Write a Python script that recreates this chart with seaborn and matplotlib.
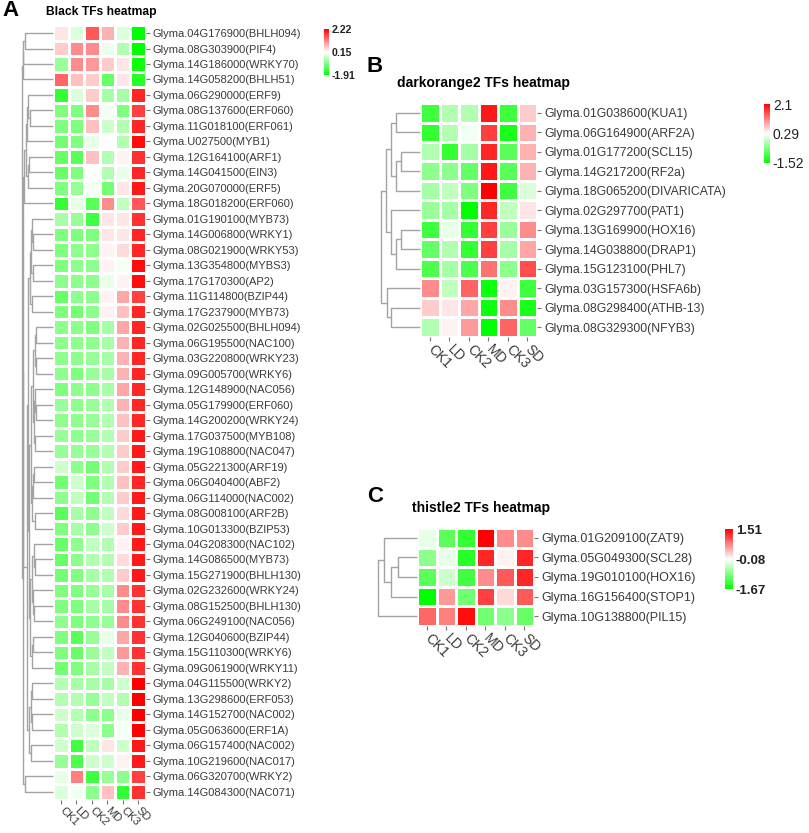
import numpy as np
import pandas as pd
import seaborn as sns
import matplotlib.pyplot as plt
from matplotlib.colors import LinearSegmentedColormap

plt.rcParams['font.family'] = ['Liberation Sans', 'DejaVu Sans']

samples = ['CK1', 'LD', 'CK2', 'MD', 'CK3', 'SD']

# ---- panel A: Black module ----
black_genes = [
    'Glyma.04G176900(BHLH094)', 'Glyma.08G303900(PIF4)', 'Glyma.14G186000(WRKY70)',
    'Glyma.14G058200(BHLH51)', 'Glyma.06G290000(ERF9)', 'Glyma.08G137600(ERF060)',
    'Glyma.11G018100(ERF061)', 'Glyma.U027500(MYB1)', 'Glyma.12G164100(ARF1)',
    'Glyma.14G041500(EIN3)', 'Glyma.20G070000(ERF5)', 'Glyma.18G018200(ERF060)',
    'Glyma.01G190100(MYB73)', 'Glyma.14G006800(WRKY1)', 'Glyma.08G021900(WRKY53)',
    'Glyma.13G354800(MYBS3)', 'Glyma.17G170300(AP2)', 'Glyma.11G114800(BZIP44)',
    'Glyma.17G237900(MYB73)', 'Glyma.02G025500(BHLH094)', 'Glyma.06G195500(NAC100)',
    'Glyma.03G220800(WRKY23)', 'Glyma.09G005700(WRKY6)', 'Glyma.12G148900(NAC056)',
    'Glyma.05G179900(ERF060)', 'Glyma.14G200200(WRKY24)', 'Glyma.17G037500(MYB108)',
    'Glyma.19G108800(NAC047)', 'Glyma.05G221300(ARF19)', 'Glyma.06G040400(ABF2)',
    'Glyma.06G114000(NAC002)', 'Glyma.08G008100(ARF2B)', 'Glyma.10G013300(BZIP53)',
    'Glyma.04G208300(NAC102)', 'Glyma.14G086500(MYB73)', 'Glyma.15G271900(BHLH130)',
    'Glyma.02G232600(WRKY24)', 'Glyma.08G152500(BHLH130)', 'Glyma.06G249100(NAC056)',
    'Glyma.12G040600(BZIP44)', 'Glyma.15G110300(WRKY6)', 'Glyma.09G061900(WRKY11)',
    'Glyma.04G115500(WRKY2)', 'Glyma.13G298600(ERF053)', 'Glyma.14G152700(NAC002)',
    'Glyma.05G063600(ERF1A)', 'Glyma.06G157400(NAC002)', 'Glyma.10G219600(NAC017)',
    'Glyma.06G320700(WRKY2)', 'Glyma.14G084300(NAC071)',
]
black_values = [
    [0.36, -0.15, 1.50, 0.77, -0.15, -1.91],
    [0.57, 1.08, 1.08, 0.00, -0.46, -1.91],
    [-0.67, 1.08, 0.98, 0.57, 0.36, -1.80],
    [1.39, 0.67, 0.57, -1.08, 0.36, -1.60],
    [-1.50, -0.15, 0.57, -0.57, -0.57, 1.91],
    [-0.88, -0.88, 1.08, 0.05, -0.88, 1.70],
    [-0.88, -0.88, 0.67, -0.26, -0.46, 1.91],
    [-0.98, -0.88, -0.05, 0.16, -0.46, 2.12],
    [-1.08, -1.19, 0.67, -0.46, 0.26, 1.81],
    [-1.08, -0.88, 0.16, -0.46, -0.05, 1.91],
    [-0.88, -0.67, 0.05, -0.98, 0.36, 2.01],
    [-1.50, -0.05, -1.19, 1.08, -0.36, 1.50],
    [-0.57, -0.67, -1.39, 0.36, 0.36, 1.81],
    [-0.88, -0.88, -0.88, 0.36, 0.36, 1.91],
    [-0.88, -0.77, -0.77, 0.26, 0.46, 1.91],
    [-0.88, -0.77, -0.77, 0.26, 0.05, 2.12],
    [-0.77, -0.77, -0.77, -0.05, 0.26, 2.12],
    [-1.08, -0.77, -0.77, 0.26, 0.88, 1.70],
    [-0.88, -0.98, -0.77, 0.26, 0.67, 1.91],
    [-0.77, -0.77, -0.88, -0.57, 0.88, 1.91],
    [-0.77, -0.77, -0.77, -0.57, 0.77, 1.91],
    [-0.77, -0.77, -0.67, -0.57, 0.77, 1.91],
    [-0.77, -0.88, -0.67, -0.57, 0.77, 1.91],
    [-0.88, -0.77, -0.77, -0.57, 0.88, 1.91],
    [-0.67, -0.77, -0.67, -0.46, 0.77, 1.91],
    [-0.77, -0.77, -0.67, -0.46, 0.67, 1.91],
    [-0.67, -0.77, -0.67, -0.46, 0.57, 2.01],
    [-0.67, -0.67, -0.67, -0.46, 0.57, 2.01],
    [-0.26, -0.77, -0.98, -0.46, 0.57, 2.01],
    [-0.98, -0.26, -0.88, -0.46, 0.67, 1.91],
    [-0.77, -0.36, -0.98, -0.46, 0.57, 2.01],
    [-1.19, -0.57, -0.77, -0.36, 0.46, 2.01],
    [-0.88, -0.57, -0.77, -0.26, 0.57, 2.01],
    [-1.08, -0.77, -0.36, -0.46, 0.26, 2.01],
    [-1.08, -0.77, -0.46, -0.46, 0.46, 2.01],
    [-0.98, -0.88, -0.57, -0.46, 0.57, 2.01],
    [-0.88, -0.88, -0.67, -0.57, 1.08, 1.81],
    [-0.88, -0.88, -0.57, -0.57, 1.08, 1.81],
    [-0.77, -0.88, -0.77, -0.67, 1.08, 1.81],
    [-0.88, -1.19, -0.67, -0.05, 0.88, 1.81],
    [-0.88, -1.08, -0.67, -0.36, 0.98, 1.81],
    [-0.98, -0.88, -0.57, -0.36, 0.77, 1.81],
    [-0.46, -0.57, -0.57, -0.57, -0.26, 2.22],
    [-0.46, -0.46, -0.67, -0.36, -0.46, 2.22],
    [-0.26, -0.46, -0.77, -0.77, -0.05, 2.22],
    [-0.46, -0.26, -0.15, -0.77, 0.05, 2.22],
    [-0.26, -1.39, -0.36, 0.36, -0.26, 2.01],
    [-0.67, -1.29, -0.26, -0.26, 0.26, 2.01],
    [-0.05, 1.19, -1.39, -0.67, -0.77, 1.70],
    [-0.15, 0.05, -0.77, 0.67, -1.50, 1.81],
]
black_range = (-1.91, 0.15, 2.22)
# row tree: (left, right, merge height), leaves are row numbers
top4 = (((0, 1, 28.3), 2, 30.0), 3, 30.7)
erf = ((((4, (5, 6, 23.5), 25.0), 7, 26.5), ((8, 9, 24.5), 10, 25.5), 27.5), 11, 29.5)
myb = (((12, (13, 14, 20.0), 21.5), (15, 16, 20.5), 22.5), (17, 18, 21.0), 23.5)
c4a = (((19, 20, 17.0), (21, 22, 17.5), 18.5), ((23, (24, 25, 17.3), 18.2), (26, 27, 18.0), 19.0), 20.0)
c4b = (((28, 29, 19.0), 30, 20.0), (31, 32, 18.5), 21.0)
c4c = ((33, (34, 35, 18.5), 19.5), (36, (37, 38, 19.0), 20.0), 21.5)
c4d = ((39, 40, 20.5), 41, 21.5)
c4e = (((42, 43, 21.0), (44, 45, 21.5), 22.5), (46, 47, 22.0), 24.0)
mid = ((c4a, c4b, 22.0), (c4c, c4d, 23.0), 24.5)
bulk = ((myb, mid, 25.5), c4e, 26.5)
black_tree = (top4, ((erf, bulk, 30.0), (48, 49, 28.3), 30.7), 31.7)

# ---- panel B: darkorange2 module ----
orange_genes = [
    'Glyma.01G038600(KUA1)', 'Glyma.06G164900(ARF2A)', 'Glyma.01G177200(SCL15)',
    'Glyma.14G217200(RF2a)', 'Glyma.18G065200(DIVARICATA)', 'Glyma.02G297700(PAT1)',
    'Glyma.13G169900(HOX16)', 'Glyma.14G038800(DRAP1)', 'Glyma.15G123100(PHL7)',
    'Glyma.03G157300(HSFA6b)', 'Glyma.08G298400(ATHB-13)', 'Glyma.08G329300(NFYB3)',
]
orange_values = [
    [-1.07, -0.25, -0.25, 1.92, -1.07, 0.65],
    [-1.16, -0.25, 0.20, 1.65, -1.34, 0.83],
    [-0.25, -1.16, -0.34, 1.83, -0.89, 0.83],
    [-0.52, -0.52, -0.80, 1.92, -0.89, 0.83],
    [-0.34, -0.16, -0.62, 2.10, -1.07, 0.02],
    [-0.43, -0.34, -1.52, 1.83, -0.16, 0.47],
    [-1.07, 0.11, -1.16, 1.65, -0.43, 1.11],
    [-0.80, -0.25, -1.16, 1.65, -0.34, 0.92],
    [-0.98, -0.34, -0.98, 1.29, -0.52, 1.56],
    [1.11, -0.16, 1.38, -1.43, 0.38, -1.07],
    [0.65, 0.47, 0.92, -1.43, 1.11, -1.34],
    [-0.25, 0.38, 1.01, -1.52, 1.38, -0.80],
]
orange_range = (-1.52, 0.29, 2.1)
b_top = ((0, 1, 24.0), ((2, 3, 19.0), 4, 24.5), 29.3)
b_mid = (5, ((6, 7, 19.0), 8, 24.0), 29.3)
b_low = (9, (10, 11, 29.0), 33.3)
orange_tree = ((b_top, b_mid, 34.3), b_low, 39.0)

# ---- panel C: thistle2 module ----
thistle_genes = [
    'Glyma.01G209100(ZAT9)', 'Glyma.05G049300(SCL28)', 'Glyma.19G010100(HOX16)',
    'Glyma.16G156400(STOP1)', 'Glyma.10G138800(PIL15)',
]
thistle_values = [
    [-0.24, -1.11, -1.35, 1.51, 0.64, 0.64],
    [-0.80, -0.24, -1.43, 1.27, 0.00, 1.27],
    [-1.11, -0.40, -1.27, 0.64, 0.95, 1.27],
    [-1.67, 0.56, -0.95, 1.11, 0.16, 0.95],
    [0.87, 0.72, 1.43, -0.95, -0.80, -1.03],
]
thistle_range = (-1.67, -0.08, 1.51)
thistle_tree = ((0, ((1, 2, 18.7), 3, 26.0), 32.7), 4, 39.3)

gwr = LinearSegmentedColormap.from_list('gwr', ['#00ff00', '#ffffff', '#ff0000'])

W, H = 809, 833
fig = plt.figure(figsize=(W / 100, H / 100), dpi=100)


def px_axes(x0, y0, x1, y1):
    return fig.add_axes([x0 / W, 1 - y1 / H, (x1 - x0) / W, (y1 - y0) / H])


def draw_tree(ax, tree, n, width):
    def walk(node):
        if isinstance(node, int):
            return node + 0.5, 0.0
        left, right, h = node
        yl, hl = walk(left)
        yr, hr = walk(right)
        ax.plot([hl, h, h, hr], [yl, yl, yr, yr], color='#a3a3a3', lw=1.0,
                solid_capstyle='butt', clip_on=False)
        return (yl + yr) / 2, h
    walk(tree)
    ax.set_xlim(width, 0)
    ax.set_ylim(n, 0)
    ax.axis('off')


def panel(genes, values, vrange, tree, hm, dg, cb, row_fs, col_fs, cb_fs, cb_bold):
    df = pd.DataFrame(values, index=genes, columns=samples)
    lo, mi, hi = vrange
    ax = px_axes(*hm)
    cax = px_axes(*cb)
    sns.heatmap(df, ax=ax, cmap=gwr, vmin=lo, vmax=hi, linewidths=0.8, linecolor='white',
                cbar_ax=cax, cbar_kws={'ticks': [hi, mi, lo]},
                xticklabels=samples, yticklabels=genes)
    ax.yaxis.tick_right()
    ax.set_yticklabels(genes, rotation=0, fontsize=row_fs, color='#3a3a3a')
    ax.set_xticklabels(samples, rotation=-45, ha='left', va='center',
                       rotation_mode='anchor', fontsize=col_fs, color='#3a3a3a')
    ax.tick_params(axis='y', length=3, width=0.8, color='#777777', pad=2)
    ax.tick_params(axis='x', length=3, width=0.8, color='#777777', pad=4)
    ax.set_xlabel('')
    ax.set_ylabel('')
    cax.tick_params(length=0, pad=2)
    cax.set_yticklabels([str(hi), str(mi), str(lo)], fontsize=cb_fs,
                        fontweight='bold' if cb_bold else 'normal', color='#222222')
    dax = px_axes(*dg)
    draw_tree(dax, tree, len(genes), dg[2] - dg[0])


panel(black_genes, black_values, black_range, black_tree,
      (53.3, 25.3, 145.7, 799.5), (18, 25.3, 53.3, 799.5), (324, 29, 329, 75),
      8, 8, 7.6, True)
panel(orange_genes, orange_values, orange_range, orange_tree,
      (420, 103, 537, 337), (376, 103, 420, 337), (764, 104, 770, 163),
      8.8, 10, 10, False)
panel(thistle_genes, thistle_values, thistle_range, thistle_tree,
      (417, 528, 534, 626), (373, 528, 417, 626), (725, 529, 733, 589),
      9, 10, 9.5, True)

fig.text(46 / W, 1 - 12 / H, 'Black TFs heatmap', fontsize=8.7, fontweight='bold', va='center')
fig.text(397 / W, 1 - 83 / H, 'darkorange2 TFs heatmap', fontsize=10, fontweight='bold', va='center')
fig.text(412 / W, 1 - 508 / H, 'thistle2 TFs heatmap', fontsize=10, fontweight='bold', va='center')
fig.text(2 / W, 1 - 11 / H, 'A', fontsize=16, fontweight='bold', va='center')
fig.text(367 / W, 1 - 67 / H, 'B', fontsize=16, fontweight='bold', va='center')
fig.text(367 / W, 1 - 497 / H, 'C', fontsize=16, fontweight='bold', va='center')

fig.savefig('out.png', dpi=100)
